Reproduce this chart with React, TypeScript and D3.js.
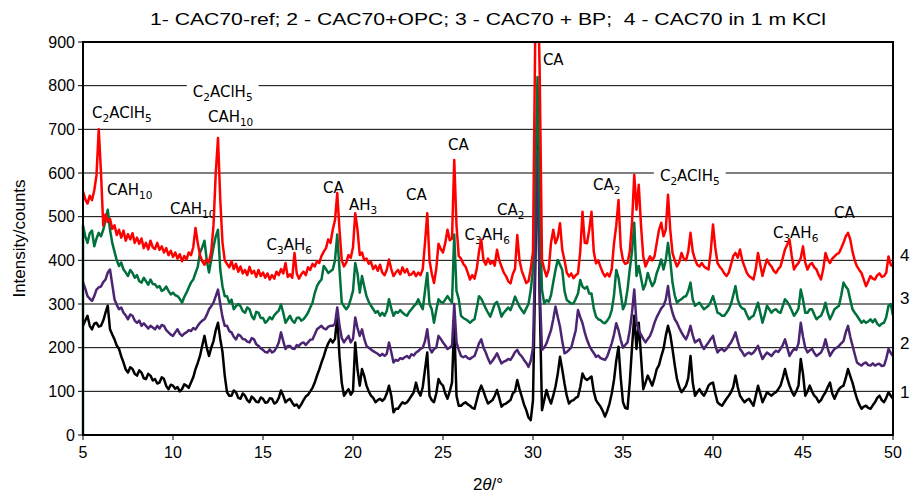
import React, { useEffect, useRef } from "react";
import * as d3 from "d3";

// XRD patterns, counts read every 0.125° of 2θ from 5° to 50° (one row per degree)
const thetaStart = 5;
const thetaStep = 0.125;

// 1 - CAC70-ref
const cac70Ref = [
  250, 262, 273, 250, 242, 255, 257, 248, // 5
  250, 262, 280, 296, 242, 230, 219, 205, // 6
  197, 180, 166, 150, 143, 155, 151, 140, // 7
  136, 148, 143, 130, 128, 140, 136, 125, // 8
  128, 118, 120, 132, 128, 112, 105, 115, // 9
  113, 106, 110, 100, 105, 116, 113, 108, // 10
  120, 132, 151, 165, 181, 205, 227, 200, // 11
  181, 200, 215, 240, 257, 220, 190, 136, // 12
  98, 90, 90, 102, 98, 85, 83, 95, // 13
  90, 80, 75, 88, 83, 76, 75, 86, // 14
  83, 74, 75, 84, 83, 72, 75, 85, // 15
  102, 90, 75, 80, 83, 74, 67, 70, // 16
  62, 70, 80, 88, 92, 100, 108, 120, // 17
  136, 150, 166, 180, 197, 210, 219, 212, // 18
  220, 273, 180, 120, 90, 98, 105, 92, // 19
  100, 212, 150, 113, 151, 135, 113, 100, // 20
  90, 85, 75, 80, 83, 78, 83, 95, // 21
  113, 90, 52, 60, 60, 68, 75, 72, // 22
  75, 82, 90, 98, 120, 100, 90, 110, // 23
  150, 189, 90, 80, 75, 95, 128, 118, // 24
  113, 95, 83, 100, 120, 257, 90, 67, // 25
  67, 72, 75, 70, 67, 62, 60, 80, // 26
  100, 113, 100, 85, 72, 76, 80, 90, // 27
  103, 85, 65, 70, 72, 76, 80, 95, // 28
  100, 126, 105, 88, 70, 57, 40, 34, // 29
  80, 380, 700, 300, 57, 80, 103, 85, // 30
  72, 90, 111, 140, 179, 150, 118, 90, // 31
  72, 78, 80, 85, 88, 110, 141, 130, // 32
  126, 130, 134, 100, 80, 72, 65, 55, // 33
  42, 55, 72, 95, 126, 170, 202, 130, // 34
  75, 62, 60, 120, 200, 273, 197, 257, // 35
  180, 105, 120, 136, 125, 113, 130, 151, // 36
  160, 180, 197, 227, 250, 230, 197, 160, // 37
  128, 110, 98, 105, 113, 130, 181, 120, // 38
  90, 98, 105, 96, 90, 100, 113, 118, // 39
  120, 95, 75, 70, 67, 75, 83, 90, // 40
  98, 110, 136, 110, 90, 82, 75, 80, // 41
  83, 75, 67, 90, 113, 95, 75, 86, // 42
  98, 94, 90, 95, 98, 105, 113, 130, // 43
  151, 130, 113, 100, 90, 100, 113, 174, // 44
  140, 90, 100, 113, 100, 90, 85, 75, // 45
  80, 90, 98, 110, 120, 95, 83, 95, // 46
  105, 110, 113, 130, 151, 135, 120, 100, // 47
  83, 70, 60, 65, 67, 62, 60, 68, // 48
  75, 85, 90, 80, 75, 85, 98, 90, // 49
  83,
];

// 2 - CAC70+OPC
const cac70Opc = [
  350, 335, 318, 312, 307, 318, 333, 338, // 5
  340, 350, 356, 372, 379, 345, 311, 298, // 6
  288, 292, 280, 274, 265, 276, 273, 262, // 7
  257, 262, 250, 256, 250, 244, 250, 246, // 8
  242, 250, 244, 252, 250, 240, 235, 230, // 9
  227, 235, 242, 232, 227, 232, 235, 240, // 10
  238, 245, 242, 250, 257, 262, 265, 275, // 11
  288, 295, 303, 318, 333, 300, 270, 250, // 12
  250, 238, 235, 225, 219, 230, 227, 220, // 13
  219, 214, 212, 222, 219, 208, 204, 198, // 14
  195, 190, 189, 196, 189, 192, 200, 212, // 15
  235, 215, 197, 204, 204, 198, 197, 206, // 16
  204, 210, 212, 206, 212, 218, 219, 230, // 17
  242, 246, 250, 244, 242, 248, 250, 250, // 18
  255, 292, 250, 222, 212, 220, 227, 212, // 19
  220, 269, 245, 227, 242, 220, 204, 200, // 20
  196, 192, 189, 186, 181, 186, 181, 186, // 21
  212, 190, 166, 172, 170, 176, 174, 178, // 22
  181, 176, 185, 182, 189, 192, 197, 200, // 23
  215, 242, 200, 189, 197, 200, 227, 220, // 24
  212, 205, 197, 200, 205, 300, 212, 195, // 25
  181, 178, 181, 176, 174, 178, 181, 195, // 26
  210, 219, 200, 189, 175, 164, 170, 178, // 27
  187, 175, 164, 168, 170, 174, 172, 180, // 28
  190, 195, 185, 180, 172, 165, 156, 170, // 29
  200, 420, 650, 330, 195, 200, 210, 225, // 30
  240, 265, 294, 270, 248, 215, 187, 190, // 31
  195, 200, 220, 240, 286, 270, 256, 235, // 32
  218, 205, 195, 188, 179, 182, 176, 174, // 33
  172, 180, 195, 210, 230, 256, 240, 218, // 34
  200, 206, 212, 240, 280, 333, 257, 240, // 35
  230, 220, 212, 220, 227, 240, 257, 270, // 36
  280, 290, 296, 310, 341, 300, 280, 265, // 37
  257, 245, 235, 226, 219, 232, 250, 228, // 38
  212, 216, 219, 205, 197, 205, 212, 220, // 39
  227, 205, 189, 195, 197, 192, 197, 205, // 40
  212, 222, 235, 215, 197, 190, 181, 186, // 41
  189, 185, 189, 196, 204, 188, 174, 182, // 42
  189, 185, 181, 188, 193, 190, 197, 206, // 43
  219, 200, 181, 190, 197, 195, 210, 257, // 44
  225, 200, 189, 194, 197, 188, 181, 185, // 45
  189, 200, 219, 198, 181, 190, 197, 200, // 46
  204, 210, 215, 235, 250, 225, 205, 185, // 47
  166, 162, 159, 164, 166, 160, 159, 164, // 48
  159, 162, 163, 158, 159, 175, 197, 188, // 49
  181,
];

// 3 - CAC70 + BP (the recorded pattern opens at 0 counts)
const cac70BpFirst = 0;
const cac70Bp = [
  480, 455, 440, 462, 468, 432, 450, 463, // 5
  455, 470, 490, 516, 470, 440, 420, 400, // 6
  387, 395, 379, 372, 364, 378, 371, 360, // 7
  366, 352, 349, 360, 352, 344, 356, 346, // 8
  345, 338, 341, 330, 333, 340, 330, 322, // 9
  326, 320, 318, 312, 303, 316, 326, 338, // 10
  349, 356, 371, 385, 417, 430, 445, 400, // 11
  372, 402, 430, 455, 470, 379, 340, 318, // 12
  318, 303, 310, 288, 295, 300, 295, 284, // 13
  280, 292, 288, 272, 265, 282, 280, 268, // 14
  268, 257, 262, 270, 265, 274, 280, 285, // 15
  299, 280, 257, 265, 273, 262, 257, 268, // 16
  269, 262, 265, 272, 280, 292, 303, 325, // 17
  341, 350, 356, 387, 380, 371, 375, 379, // 18
  400, 459, 379, 303, 295, 288, 295, 311, // 19
  330, 394, 370, 326, 364, 340, 318, 305, // 20
  296, 288, 280, 284, 273, 280, 273, 284, // 21
  311, 290, 273, 282, 280, 286, 280, 276, // 22
  273, 282, 288, 295, 300, 311, 298, 288, // 23
  330, 371, 300, 288, 257, 285, 311, 305, // 24
  303, 310, 318, 310, 303, 459, 330, 311, // 25
  273, 268, 265, 262, 257, 262, 265, 290, // 26
  318, 312, 301, 290, 280, 271, 285, 300, // 27
  305, 290, 271, 280, 286, 292, 286, 300, // 28
  317, 305, 294, 286, 279, 290, 300, 332, // 29
  380, 600, 820, 500, 332, 301, 309, 305, // 30
  320, 350, 378, 401, 390, 378, 330, 309, // 31
  305, 301, 301, 312, 324, 355, 340, 335, // 32
  340, 324, 324, 290, 271, 265, 263, 258, // 33
  256, 262, 270, 286, 320, 378, 360, 324, // 34
  288, 300, 333, 379, 420, 486, 364, 387, // 35
  360, 333, 345, 371, 355, 341, 350, 371, // 36
  385, 402, 379, 400, 440, 400, 349, 320, // 37
  303, 308, 311, 316, 318, 330, 349, 310, // 38
  296, 300, 303, 295, 288, 292, 296, 305, // 39
  318, 300, 280, 278, 273, 273, 280, 288, // 40
  300, 320, 341, 310, 296, 290, 288, 276, // 41
  265, 270, 273, 288, 303, 280, 257, 275, // 42
  296, 288, 280, 286, 288, 282, 280, 295, // 43
  311, 305, 296, 285, 273, 280, 290, 333, // 44
  310, 280, 280, 288, 288, 276, 265, 270, // 45
  273, 285, 303, 280, 265, 276, 288, 292, // 46
  296, 320, 349, 340, 333, 310, 288, 280, // 47
  273, 265, 257, 262, 257, 260, 265, 258, // 48
  265, 255, 250, 255, 257, 270, 296, 300, // 49
  273,
];

// 4 - CAC70 in 1 m KCl
const cac70Kcl = [
  558, 540, 530, 548, 538, 560, 595, 700, // 5
  600, 480, 505, 488, 495, 472, 480, 458, // 6
  470, 452, 468, 445, 460, 448, 462, 440, // 7
  452, 438, 450, 428, 440, 425, 445, 430, // 8
  426, 440, 424, 432, 418, 428, 412, 422, // 9
  408, 418, 404, 414, 398, 410, 402, 418, // 10
  412, 430, 474, 440, 412, 398, 390, 402, // 11
  396, 420, 480, 600, 680, 540, 440, 400, // 12
  392, 384, 398, 380, 392, 374, 386, 370, // 13
  378, 366, 385, 370, 376, 362, 378, 364, // 14
  372, 360, 370, 356, 366, 358, 374, 366, // 15
  380, 370, 394, 362, 368, 360, 417, 370, // 16
  358, 368, 374, 366, 384, 378, 392, 386, // 17
  398, 394, 410, 420, 428, 448, 440, 470, // 18
  492, 554, 470, 400, 386, 395, 412, 406, // 19
  430, 508, 470, 412, 418, 400, 404, 392, // 20
  396, 380, 388, 376, 390, 372, 366, 378, // 21
  402, 380, 364, 372, 378, 368, 384, 372, // 22
  380, 366, 368, 374, 364, 372, 366, 380, // 23
  440, 508, 400, 370, 348, 380, 438, 426, // 24
  418, 440, 470, 446, 450, 630, 480, 410, // 25
  404, 392, 386, 372, 356, 366, 358, 380, // 26
  420, 447, 400, 390, 404, 392, 398, 388, // 27
  424, 400, 386, 372, 364, 352, 347, 368, // 28
  380, 458, 400, 376, 362, 348, 352, 380, // 29
  420, 920, 1100, 820, 400, 380, 363, 380, // 30
  440, 470, 439, 452, 485, 424, 400, 372, // 31
  363, 370, 359, 366, 370, 420, 511, 440, // 32
  439, 470, 511, 420, 393, 400, 385, 372, // 33
  363, 370, 363, 380, 439, 480, 538, 430, // 34
  400, 392, 394, 420, 486, 596, 516, 573, // 35
  480, 409, 386, 398, 409, 400, 409, 440, // 36
  470, 486, 455, 470, 550, 470, 417, 400, // 37
  386, 396, 417, 404, 400, 420, 463, 420, // 38
  402, 390, 386, 394, 386, 382, 379, 420, // 39
  482, 430, 394, 385, 379, 370, 364, 372, // 40
  390, 410, 417, 406, 425, 400, 386, 372, // 41
  364, 360, 356, 380, 417, 390, 364, 385, // 42
  402, 392, 386, 376, 371, 380, 386, 405, // 43
  425, 436, 448, 410, 379, 388, 394, 405, // 44
  432, 395, 379, 390, 394, 384, 379, 366, // 45
  356, 380, 417, 402, 394, 404, 409, 414, // 46
  417, 428, 440, 455, 463, 448, 420, 400, // 47
  386, 378, 371, 356, 341, 352, 364, 358, // 48
  356, 366, 370, 362, 364, 372, 409, 390, // 49
  386,
];

const seriesLabels = ["1", "2", "3", "4"];
const seriesColors = ["#000000", "#4b2472", "#00703c", "#ff0000"];
const seriesLabelCounts = [98, 210, 314, 412];

const xTicks = [5, 10, 15, 20, 25, 30, 35, 40, 45, 50];
const yTicks = [0, 100, 200, 300, 400, 500, 600, 700, 800, 900];

// phase labels: text (_n = subscript), anchored at 2θ / counts
const phaseLabels = [
  "C_2AClH_5", "C_2AClH_5", "CAH_10", "CAH_10", "CAH_10", "C_3AH_6", "CA", "AH_3", "CA",
  "CA", "C_3AH_6", "CA_2", "CA", "CA_2", "C_2AClH_5", "C_3AH_6", "CA",
];
const phaseTheta = [5.5, 11.1, 11.94, 6.33, 9.83, 15.2, 18.33, 19.78, 22.94, 25.28, 26.2, 28.0, 30.55, 33.33, 37.05, 43.33, 46.72];
const phaseCounts = [726, 774, 717, 550, 506, 424, 554, 515, 538, 653, 447, 504, 847, 561, 582, 451, 497];
const phaseBoxed = [false, true, false, false, false, false, false, false, false, false, false, false, false, false, true, false, false];

const title = "1- CAC70-ref; 2 - CAC70+OPC; 3 - CAC70 + BP;  4 - CAC70 in 1 m KCl";

const width = 910;
const height = 497;
const margin = { top: 42, right: 17, bottom: 62, left: 83 };

const App = () => {
  const svgRef = useRef<SVGSVGElement>(null);

  useEffect(() => {
    const svg = d3.select(svgRef.current);
    svg.selectAll("*").remove();

    const x = d3.scaleLinear().domain([5, 50]).range([margin.left, width - margin.right]);
    const y = d3.scaleLinear().domain([0, 900]).range([height - margin.bottom, margin.top]);
    const axisFont = "'Liberation Sans', Arial, sans-serif";

    // grid
    svg
      .append("g")
      .selectAll("line")
      .data(yTicks.slice(1, -1))
      .join("line")
      .attr("x1", x(5))
      .attr("x2", x(50))
      .attr("y1", (d) => y(d))
      .attr("y2", (d) => y(d))
      .attr("stroke", "#000")
      .attr("stroke-width", 1);

    // ticks
    svg
      .append("g")
      .selectAll("line")
      .data(yTicks)
      .join("line")
      .attr("x1", x(5) - 5)
      .attr("x2", x(5))
      .attr("y1", (d) => y(d))
      .attr("y2", (d) => y(d))
      .attr("stroke", "#000");
    svg
      .append("g")
      .selectAll("line")
      .data(xTicks)
      .join("line")
      .attr("x1", (d) => x(d))
      .attr("x2", (d) => x(d))
      .attr("y1", y(0))
      .attr("y2", y(0) + 5)
      .attr("stroke", "#000");

    svg
      .append("g")
      .selectAll("text")
      .data(yTicks)
      .join("text")
      .attr("x", x(5) - 8)
      .attr("y", (d) => y(d))
      .attr("dy", "0.36em")
      .attr("text-anchor", "end")
      .style("font-family", axisFont)
      .style("font-size", "16px")
      .text((d) => d);

    svg
      .append("g")
      .selectAll("text")
      .data(xTicks)
      .join("text")
      .attr("x", (d) => x(d))
      .attr("y", y(0) + 17)
      .attr("dy", "0.36em")
      .attr("text-anchor", "middle")
      .style("font-family", axisFont)
      .style("font-size", "16px")
      .text((d) => d);

    // axis titles
    const xt = svg
      .append("text")
      .attr("x", 488)
      .attr("y", 484)
      .attr("dy", "0.36em")
      .attr("text-anchor", "middle")
      .style("font-family", axisFont)
      .style("font-size", "17px");
    xt.append("tspan").text("2");
    xt.append("tspan").style("font-style", "italic").text("θ");
    xt.append("tspan").text("/°");

    svg
      .append("text")
      .attr("transform", `translate(19,${y(450)}) rotate(-90)`)
      .attr("dy", "0.36em")
      .attr("text-anchor", "middle")
      .style("font-family", axisFont)
      .style("font-size", "17px")
      .text("Intensity/counts");

    svg
      .append("text")
      .attr("x", 150)
      .attr("y", 25)
      .attr("textLength", 676)
      .attr("lengthAdjust", "spacingAndGlyphs")
      .style("white-space", "pre")
      .style("font-family", axisFont)
      .style("font-size", "17px")
      .text(title);

    // phase labels
    const labels = svg.append("g");
    phaseLabels.forEach((label, i) => {
      const g = labels.append("g");
      const t = g
        .append("text")
        .attr("x", x(phaseTheta[i]))
        .attr("y", y(phaseCounts[i]))
        .style("font-family", "'DejaVu Sans', Verdana, sans-serif")
        .style("font-size", "15px");
      label.split(/_(\d+)/).forEach((part, j) => {
        if (!part) return;
        if (j % 2 === 1) {
          t.append("tspan").attr("dy", 4).style("font-size", "10.5px").text(part);
        } else {
          t.append("tspan").attr("dy", j === 0 ? 0 : -4).text(part);
        }
      });
      if (phaseBoxed[i]) {
        const b = (t.node() as SVGTextElement).getBBox();
        g.insert("rect", "text")
          .attr("x", b.x - 6)
          .attr("y", b.y)
          .attr("width", b.width + 12)
          .attr("height", b.height)
          .attr("fill", "#fff");
      }
    });

    // series
    svg
      .append("clipPath")
      .attr("id", "plot-clip")
      .append("rect")
      .attr("x", x(5) - 3)
      .attr("y", y(900))
      .attr("width", x(50) - x(5) + 3)
      .attr("height", y(0) - y(900));

    const toPoints = (vals: number[]) =>
      vals.map((v, i) => [thetaStart + i * thetaStep, v] as [number, number]);
    const series = [
      toPoints(cac70Ref),
      toPoints(cac70Opc),
      [[thetaStart, cac70BpFirst] as [number, number], ...toPoints(cac70Bp)],
      toPoints(cac70Kcl),
    ];

    const line = d3
      .line<[number, number]>()
      .x((d) => x(d[0]))
      .y((d) => y(d[1]));

    svg
      .append("g")
      .attr("clip-path", "url(#plot-clip)")
      .selectAll("path")
      .data(series)
      .join("path")
      .attr("d", (d) => line(d))
      .attr("fill", "none")
      .attr("stroke", (d, i) => seriesColors[i])
      .attr("stroke-width", 2.5)
      .attr("stroke-linejoin", "round");

    // frame
    svg
      .append("rect")
      .attr("x", x(5))
      .attr("y", y(900))
      .attr("width", x(50) - x(5))
      .attr("height", y(0) - y(900))
      .attr("fill", "none")
      .attr("stroke", "#000")
      .attr("stroke-width", 2);

    // series numbers at the right
    svg
      .append("g")
      .selectAll("text")
      .data(seriesLabels)
      .join("text")
      .attr("x", x(50) + 7)
      .attr("y", (d, i) => y(seriesLabelCounts[i]))
      .attr("dy", "0.36em")
      .style("font-family", axisFont)
      .style("font-size", "17px")
      .text((d) => d);
  }, []);

  return (
    <div style={{ position: "absolute", left: 0, top: 0 }}>
      <svg ref={svgRef} width={width} height={height} style={{ display: "block", background: "#fff" }} />
    </div>
  );
};

export default App;
